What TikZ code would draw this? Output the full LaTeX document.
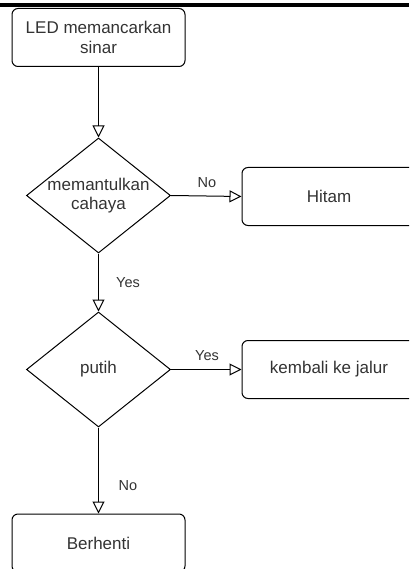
\documentclass[tikz,border=0pt]{standalone}
\usepackage{fontspec}
\setmainfont{Liberation Sans}
\usetikzlibrary{shapes.geometric,arrows.meta}
\definecolor{txt}{HTML}{333333}
\begin{document}
\begin{tikzpicture}[x=1pt,y=-1pt,
  box/.style={draw=black, line width=1pt, rounded corners=6pt,
    minimum width=#1, minimum height=58pt, inner sep=0pt,
    font=\fontsize{17}{19.5}\selectfont, text=txt, align=center},
  box/.default=173pt,
  dec/.style={draw=black, diamond, line width=1pt, minimum width=144pt,
    minimum height=115pt, inner sep=0pt},
  dtext/.style={font=\fontsize{17}{19.5}\selectfont, text=txt, align=center, inner sep=0pt},
  lab/.style={font=\fontsize{14.5}{16}\selectfont, text=txt, inner sep=0pt},
  arr/.style={draw=black, line width=1pt, -{Triangle[open, length=12pt, width=12pt]}}]
\useasboundingbox (0,0) rectangle (409,569);
\clip (0,0) rectangle (409,569);
\fill[white] (0,0) rectangle (409,569);
% top rule
\draw[line width=3.4pt] (0,5) -- (409,5);
% nodes
\node[box] (led) at (98.5,37.5) {LED memancarkan\\sinar};
\node[dec] (d1) at (98.5,195.5) {};
\node[dtext] (d1t) at (98.5,195.5) {memantulkan\\cahaya};
\node[box=174pt] (hitam) at (329,196.5) {Hitam};
\node[dec] (d2) at (98.5,369.5) {};
\node[dtext] (d2t) at (98.5,369.5) {putih};
\node[box=174pt] (kembali) at (329,369.5) {kembali ke jalur};
\node[box] (stop) at (98.5,543) {Berhenti};
% connectors
\draw[arr] (led.south) -- (d1.north);
\draw[arr] (d1.east) -- (hitam.west);
\draw[arr] (d1.south) -- (d2.north);
\draw[arr] (d2.east) -- (kembali.west);
\draw[arr] (d2.south) -- (stop.north);
% labels
\node[lab] (l1) at (207,183) {No};
\node[lab] (l2) at (128,283) {Yes};
\node[lab] (l3) at (207,356) {Yes};
\node[lab] (l4) at (128,486) {No};
\end{tikzpicture}
\end{document}
